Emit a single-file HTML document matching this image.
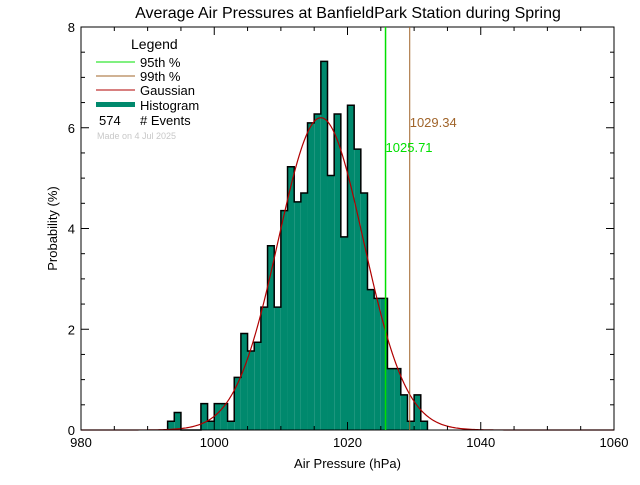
<!DOCTYPE html>
<html><head><meta charset="utf-8"><style>
body{margin:0;background:#fff;}
svg text{font-family:"Liberation Sans",sans-serif;}
</style></head><body>
<svg id="chart" width="640" height="480" viewBox="0 0 640 480">
<text x="348" y="18" font-size="16" text-anchor="middle">Average Air Pressures at BanfieldPark Station during Spring</text>
<g id="bars"></g>
<path id="gauss" fill="none" stroke="#b00000" stroke-width="1.2"/>
<g id="axes"></g>
<g>
<text x="131" y="49" font-size="14">Legend</text>
<line x1="96" y1="62" x2="135" y2="62" stroke="#00e000"/>
<text x="140" y="67" font-size="13">95th %</text>
<line x1="96" y1="76" x2="135" y2="76" stroke="#a0642a"/>
<text x="140" y="81" font-size="13">99th %</text>
<line x1="96" y1="90" x2="135" y2="90" stroke="#b00000"/>
<text x="140" y="95" font-size="13">Gaussian</text>
<rect x="96" y="102" width="39" height="5" fill="#00896d"/>
<text x="140" y="110" font-size="13">Histogram</text>
<text x="99" y="125" font-size="13">574</text>
<text x="140" y="125" font-size="13"># Events</text>
<text x="97" y="139" font-size="9" fill="#c8c8c8">Made on 4 Jul 2025</text>
</g>
</svg>
<script>
const binStarts=[993,994,995,996,997,998,999,1000,1001,1002,1003,1004,1005,1006,1007,1008,1009,1010,1011,1012,1013,1014,1015,1016,1017,1018,1019,1020,1021,1022,1023,1024,1025,1026,1027,1028,1029,1030,1031];
const counts=[1,2,0,0,0,3,1,3,3,1,6,11,9,10,14,21,14,25,30,26,27,35,36,42,29,36,22,37,32,27,16,15,15,7,7,4,1,4,1];
const totalEvents=574;
const xTicks=[980,1000,1020,1040,1060];
const yTicks=[0,2,4,6,8];
const gaussMean=1016.0, gaussSigma=6.4, gaussPeak=6.2;
const p95=1025.71, p99=1029.34;
const NS="http://www.w3.org/2000/svg";
const X0=81,X1=614,Y0=430,Y1=27;
const xs=v=>X0+(v-980)/(1060-980)*(X1-X0);
const ys=v=>Y0-(v/8)*(Y0-Y1);
function mk(t,a,p){const e=document.createElementNS(NS,t);for(const k in a)e.setAttribute(k,a[k]);p.appendChild(e);return e;}
const bars=document.getElementById('bars');
let outline="";
binStarts.forEach((b,i)=>{
 const pct=counts[i]/totalEvents*100;
 if(pct>0){
  const r=mk('rect',{x:xs(b),y:ys(pct),width:xs(b+1)-xs(b),height:Y0-ys(pct),fill:'#00896d'},bars);
  
  
 }
 outline+=(i===0?"M"+xs(b)+" "+Y0:"")+" L"+xs(b)+" "+ys(pct)+" L"+xs(b+1)+" "+ys(pct);
});
outline+=" L"+xs(binStarts[binStarts.length-1]+1)+" "+Y0;
const ol=mk('path',{d:outline,fill:'none',stroke:'#000','stroke-width':1.5},bars);


let d="";
for(let v=980;v<=1060;v+=0.25){const g=gaussPeak*Math.exp(-((v-gaussMean)**2)/(2*gaussSigma**2));d+=(d?" L":"M")+xs(v).toFixed(2)+" "+ys(g).toFixed(2);}
document.getElementById('gauss').setAttribute('d',d);
const ax=document.getElementById('axes');
const svg=document.getElementById('chart');
const l1=mk('line',{x1:xs(p95),y1:Y1,x2:xs(p95),y2:Y0,stroke:'#00e000','stroke-width':1.5},svg);


const l2=mk('line',{x1:xs(p99),y1:Y1,x2:xs(p99),y2:Y0,stroke:'#a0642a','stroke-width':1},svg);


const t1=mk('text',{x:xs(p95),y:152,'font-size':13,fill:'#00e000'},svg);t1.textContent=p95.toFixed(2);


const t2=mk('text',{x:xs(p99)+0,y:127,'font-size':13,fill:'#a0642a'},svg);t2.textContent=p99.toFixed(2);


const fr=mk('rect',{x:X0,y:Y1,width:X1-X0,height:Y0-Y1,fill:'none',stroke:'#000'},ax);


for(let v=980;v<=1060;v+=5){const big=v%20===0;
 mk('line',{x1:xs(v),y1:Y0,x2:xs(v),y2:Y0-(big?8:4),stroke:'#000'},ax);
 mk('line',{x1:xs(v),y1:Y1,x2:xs(v),y2:Y1+(big?8:4),stroke:'#000'},ax);}
xTicks.forEach(v=>{const t=mk('text',{x:xs(v),y:Y0+17,'font-size':13,'text-anchor':'middle'},ax);t.textContent=v;
 
 });
for(let v=0;v<=8;v+=0.5){const big=v%2===0;
 mk('line',{x1:X0,y1:ys(v),x2:X0+(big?8:4),y2:ys(v),stroke:'#000'},ax);
 mk('line',{x1:X1,y1:ys(v),x2:X1-(big?8:4),y2:ys(v),stroke:'#000'},ax);}
yTicks.forEach(v=>{const t=mk('text',{x:X0-6,y:ys(v)+5,'font-size':13,'text-anchor':'end'},ax);t.textContent=v;
 
 });
const xt=mk('text',{x:(X0+X1)/2,y:468,'font-size':13,'text-anchor':'middle'},ax);xt.textContent="Air Pressure (hPa)";


const yt=mk('text',{x:0,y:0,'font-size':13,'text-anchor':'middle',transform:'translate(57,'+((Y0+Y1)/2)+') rotate(-90)'},ax);yt.textContent="Probability (%)";


</script>
</body></html>
